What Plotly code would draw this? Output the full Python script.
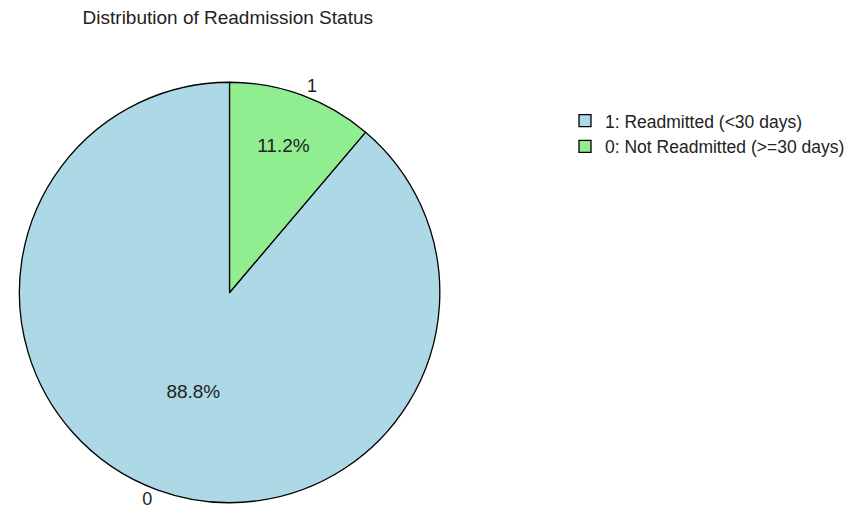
import plotly.graph_objects as go

# Readmission status shares (percent)
status_codes = ["0", "1"]
legend_names = ["1: Readmitted (<30 days)", "0: Not Readmitted (>=30 days)"]
shares = [88.8, 11.2]
slice_colors = ["#ADD8E6", "#90EE90"]

FONT = "Liberation Sans, Arial, sans-serif"
TEXT_COLOR = "#222222"
DOMAIN = dict(x=[0.021, 0.525], y=[0.022, 0.840])

# Start the first wedge just past the second one so the small wedge sits right of 12 o'clock
start_angle = shares[1] / sum(shares) * 360

fig = go.Figure()

# Main pie: filled wedges, percentages inside, legend entries
fig.add_trace(go.Pie(
    labels=legend_names,
    values=shares,
    marker=dict(colors=slice_colors, line=dict(color="black", width=1.3)),
    sort=False,
    direction="clockwise",
    rotation=start_angle,
    texttemplate="%{percent:.1%}",
    textposition="inside",
    insidetextorientation="horizontal",
    insidetextfont=dict(family=FONT, size=19, color=TEXT_COLOR),
    domain=DOMAIN,
    hoverinfo="label+percent",
))

# Overlay pie: transparent wedges carrying the category codes outside
fig.add_trace(go.Pie(
    labels=status_codes,
    values=shares,
    marker=dict(colors=["rgba(0,0,0,0)", "rgba(0,0,0,0)"], line=dict(width=0)),
    sort=False,
    direction="clockwise",
    rotation=start_angle,
    texttemplate="%{label}",
    textposition="outside",
    outsidetextfont=dict(family=FONT, size=18, color=TEXT_COLOR),
    domain=DOMAIN,
    showlegend=False,
    hoverinfo="skip",
))

fig.update_layout(
    width=850,
    height=514,
    margin=dict(l=0, r=0, t=0, b=0),
    paper_bgcolor="white",
    plot_bgcolor="white",
    font=dict(family=FONT, size=18, color=TEXT_COLOR),
    title=dict(
        text="Distribution of Readmission Status",
        x=0.268, xanchor="center",
        y=0.967, yanchor="middle",
        font=dict(family=FONT, size=19, color=TEXT_COLOR),
    ),
    legend=dict(
        x=0.672, xanchor="left",
        y=0.80, yanchor="top",
        font=dict(family=FONT, size=17.5, color=TEXT_COLOR),
        bgcolor="rgba(0,0,0,0)",
        itemwidth=30,
        tracegroupgap=0,
    ),
)

fig.write_html("out.html")
